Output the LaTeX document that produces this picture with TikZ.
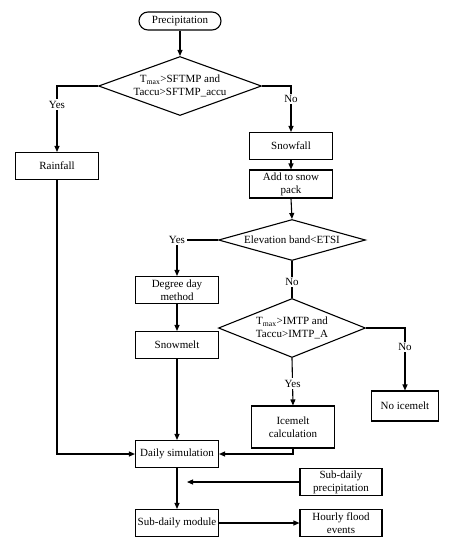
\documentclass[tikz,border=0pt]{standalone}
\usepackage{fontspec}
\setmainfont{Liberation Serif}
\usetikzlibrary{arrows.meta, positioning, shapes.geometric}
\newcommand{\flowfont}{\fontsize{11}{13}\selectfont}

\begin{document}
\begin{tikzpicture}[
  x=1pt, y=-1pt,
  >={Triangle[length=6pt, width=5pt]},
  procbox/.style={
    draw, line width=1.1pt, minimum width=83pt, minimum height=27pt,
    align=center, inner sep=2pt, font=\flowfont
  },
  termbox/.style={
    draw, line width=1.1pt, rounded corners=9pt,
    minimum width=82pt, minimum height=18pt, font=\flowfont
  },
  decbox/.style={
    diamond, draw, line width=1.1pt, inner sep=0pt,
    align=center, font=\flowfont
  },
  arr/.style={->, line width=1.1pt},
  line/.style={line width=1.1pt},
  lbl/.style={fill=white, inner sep=1.5pt, font=\flowfont},
]

% Canvas
\useasboundingbox (0,0) rectangle (453,550);

% =============================================
% Start and first decision
% =============================================
\node[termbox] (prec) at (180,21) {Precipitation};

\node[decbox, aspect=2.8, minimum width=163pt, minimum height=59pt] (dsnow) at (180,86)
  {T\textsubscript{max}>SFTMP and\\Taccu>SFTMP\_accu};

\draw[arr] (prec.south) -- (dsnow.north);

% =============================================
% Rain branch (left)
% =============================================
\node[procbox] (rain) at (57,166) {Rainfall};

\draw[arr] (dsnow.west) -| node[lbl, pos=0.64] {Yes} (rain.north);

% =============================================
% Snow branch (right)
% =============================================
\node[procbox] (snow) at (291,146) {Snowfall};
\node[procbox, minimum height=28pt] (pack) at (291,184) {Add to snow\\pack};

\draw[arr] (dsnow.east) -| node[lbl, pos=0.64] {No} (snow.north);
\draw[arr] (snow.south) -- (pack.north);

\node[decbox, aspect=3.6, minimum width=147pt, minimum height=41pt] (delev) at (292,240)
  {Elevation band<ETSI};

\draw[arr] (pack.south) -- (delev.north);

% Snowmelt path
\node[procbox] (degday) at (177,290) {Degree day\\method};
\node[procbox] (smelt) at (177,345) {Snowmelt};

\draw[arr] (delev.west) -| node[lbl, pos=0.5] {Yes} (degday.north);
\draw[arr] (degday.south) -- (smelt.north);

% Icemelt decision
\node[decbox, aspect=2.5, minimum width=147pt, minimum height=59pt] (dice) at (292,328)
  {T\textsubscript{max}>IMTP and\\Taccu>IMTP\_A};

\draw[line] (delev.south) -- node[lbl, pos=0.56] {No} (dice.north);

\node[procbox, minimum width=67pt, minimum height=30pt] (noice) at (405,406) {No icemelt};
\node[procbox, minimum height=42pt] (imelt) at (293,427) {Icemelt\\calculation};

\draw[arr] (dice.east) -| node[lbl, pos=0.65] {No} (noice.north);
\draw[arr] (dice.south) -- node[lbl, pos=0.54] {Yes} (imelt.north);

% =============================================
% Simulation
% =============================================
\node[procbox] (daily) at (177,454) {Daily simulation};
\node[procbox, minimum width=82pt] (subp) at (341,482) {Sub-daily\\precipitation};
\node[procbox] (submod) at (177,523) {Sub-daily module};
\node[procbox, minimum width=82pt] (hourly) at (341,523) {Hourly flood\\events};

\draw[arr] (rain.south) |- (daily.west);
\draw[arr] (smelt.south) -- (daily.north);
\draw[arr] (imelt.south) |- (daily.east);
\draw[arr] (daily.south) -- (submod.north);

\coordinate (mrg) at (187,482);
\draw[arr] (subp.west) -- (mrg);
\draw[arr] (submod.east) -- (hourly.west);

\end{tikzpicture}
\end{document}
